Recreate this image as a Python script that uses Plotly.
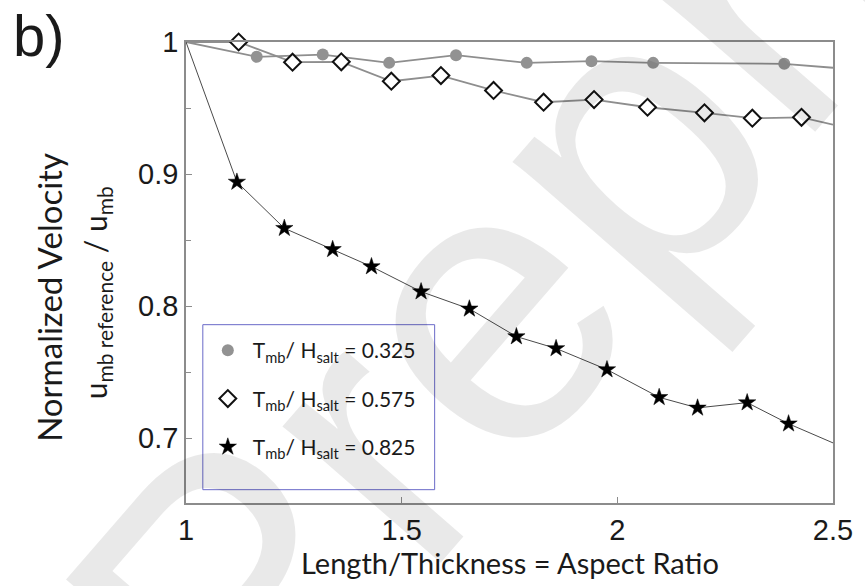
import plotly.graph_objects as go

# ---- data ----
x_origin = 1.0
y_origin = 1.0
x_edge = 2.5

x_325 = [1.164, 1.317, 1.471, 1.626, 1.790, 1.940, 2.083, 2.387]
y_325 = [0.9888, 0.9905, 0.9842, 0.9900, 0.9842, 0.9855, 0.9842, 0.9835]
y_edge_325 = 0.9805

x_575 = [1.122, 1.247, 1.360, 1.476, 1.591, 1.713, 1.829, 1.946, 2.070, 2.202, 2.313, 2.427]
y_575 = [1.0, 0.9847, 0.9850, 0.9703, 0.9746, 0.9633, 0.9544, 0.9564, 0.9506, 0.9464, 0.9423, 0.9430]
y_edge_575 = 0.9375

x_825 = [1.118, 1.228, 1.340, 1.430, 1.545, 1.657, 1.766, 1.858, 1.976, 2.097, 2.186, 2.301, 2.397]
y_825 = [0.894, 0.859, 0.843, 0.830, 0.811, 0.798, 0.777, 0.768, 0.752, 0.731, 0.723, 0.727, 0.711]
y_edge_825 = 0.6965

names = ["T<sub>mb</sub>/ H<sub>salt</sub> = 0.325",
         "T<sub>mb</sub>/ H<sub>salt</sub> = 0.575",
         "T<sub>mb</sub>/ H<sub>salt</sub> = 0.825"]

x_ticks = [1, 1.5, 2, 2.5]
x_ticktext = ["1", "1.5", "2", "2.5"]
y_ticks = [0.7, 0.8, 0.9, 1.0]
y_ticktext = ["0.7", "0.8", "0.9", "1"]
y_minor = [0.75, 0.85, 0.95]

TXT = "Lato"
NUM = "Liberation Sans"

fig = go.Figure()

series = [
    (x_325, y_325, y_edge_325, "#8e8e8e", 1.8,
     dict(symbol="circle", size=12, color="#929292", line=dict(width=0))),
    (x_575, y_575, y_edge_575, "#8e8e8e", 1.8,
     dict(symbol="diamond", size=13, color="white", line=dict(width=2, color="#111111"))),
    (x_825, y_825, y_edge_825, "#4a4a4a", 1.0,
     dict(symbol="star", size=13, color="black", line=dict(width=0.5, color="black"))),
]

for i, (xs, ys, ye, lc, lw, mk) in enumerate(series):
    fig.add_trace(go.Scatter(
        x=[x_origin] + xs + [x_edge], y=[y_origin] + ys + [ye],
        mode="lines", line=dict(color=lc, width=lw),
        showlegend=False, hoverinfo="skip", cliponaxis=True))
for i, (xs, ys, ye, lc, lw, mk) in enumerate(series):
    fig.add_trace(go.Scatter(
        x=xs, y=ys, mode="markers", marker=mk, name=names[i],
        legendgroup=f"g{i}", showlegend=True, cliponaxis=False))

axis_common = dict(showline=True, linecolor="#8c8c8c", linewidth=1.5, mirror=True,
                   showgrid=False, zeroline=False, ticks="inside", ticklen=6,
                   tickcolor="#8c8c8c", tickwidth=1.2,
                   tickfont=dict(family=NUM, size=29, color="#1a1a1a"))

fig.update_layout(
    width=865, height=586,
    margin=dict(l=186, r=24, t=42, b=83),
    paper_bgcolor="white", plot_bgcolor="white",
    xaxis=dict(range=[1, 2.5], tickvals=x_ticks, ticktext=x_ticktext, **axis_common),
    yaxis=dict(range=[0.651, 1.0], tickvals=y_ticks, ticktext=y_ticktext,
               minor=dict(tickvals=y_minor, ticks="inside", ticklen=5,
                          tickcolor="#8c8c8c", tickwidth=1.2),
               **axis_common),
    legend=dict(x=0.026, y=0.375, xanchor="left", yanchor="top",
                bgcolor="rgba(0,0,0,0)", borderwidth=0, itemwidth=40,
                font=dict(family=TXT, size=21, color="#1a1a1a"),
                traceorder="grouped", tracegroupgap=18),
    showlegend=True,
)

# legend frame
fig.add_shape(type="rect", xref="paper", yref="paper",
              x0=0.026, x1=0.3843, y0=0.0289, y1=0.3868,
              line=dict(color="#6a6ac8", width=1), fillcolor="rgba(0,0,0,0)")

# axis titles
fig.add_annotation(text="Length/Thickness = Aspect Ratio", xref="paper", yref="paper",
                   x=0.5, y=-0.13, xanchor="center", yanchor="middle", showarrow=False,
                   font=dict(family=TXT, size=29, color="#1a1a1a"))
fig.add_annotation(text="Normalized Velocity", xref="paper", yref="paper",
                   x=-0.2122, y=0.4466, xanchor="center", yanchor="middle", showarrow=False,
                   textangle=-90, font=dict(family=TXT, size=33, color="#1a1a1a"))
fig.add_annotation(text="u<sub>mb reference</sub> / u<sub>mb</sub>", xref="paper", yref="paper",
                   x=-0.138, y=0.4564, xanchor="center", yanchor="middle", showarrow=False,
                   textangle=-90, font=dict(family=TXT, size=30, color="#1a1a1a"))
# panel label
fig.add_annotation(text="b)", xref="paper", yref="paper",
                   x=-0.27, y=1.014, xanchor="left", yanchor="middle", showarrow=False,
                   font=dict(family=NUM, size=58, color="#1a1a1a"))
# watermark
fig.add_annotation(text="Preprint", xref="paper", yref="paper",
                   x=0.641, y=0.721, xanchor="center", yanchor="middle", showarrow=False,
                   textangle=-49, font=dict(family=NUM, size=395, color="rgba(0,0,0,0.085)"))

fig.write_html("out.html")
